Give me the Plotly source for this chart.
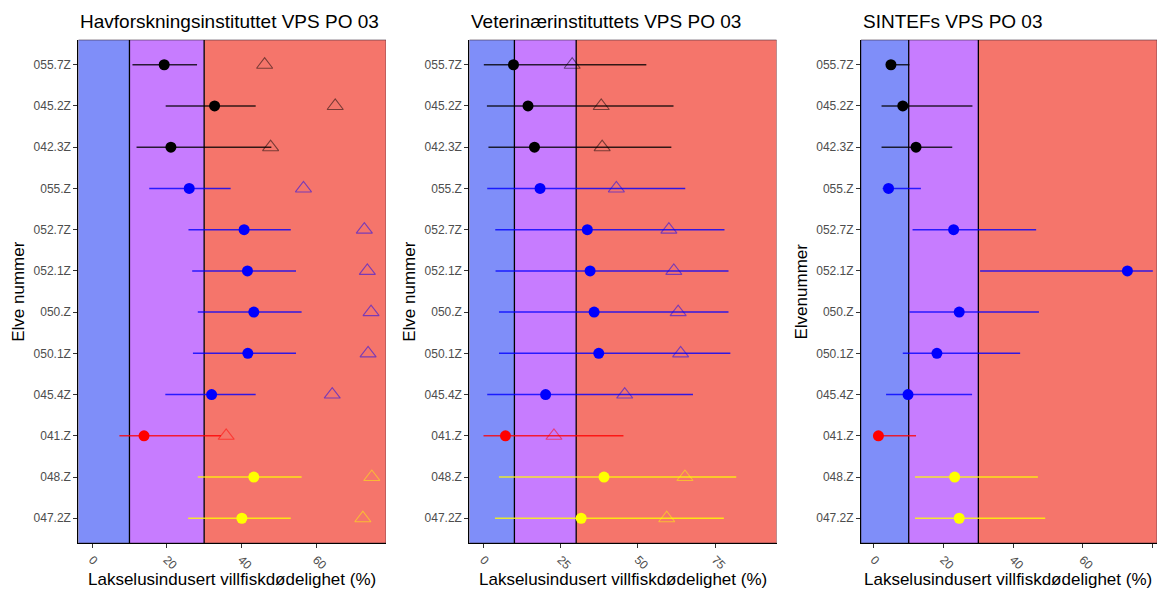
import plotly.graph_objects as go

rivers = ["055.7Z", "045.2Z", "042.3Z", "055.Z", "052.7Z", "052.1Z",
          "050.Z", "050.1Z", "045.4Z", "041.Z", "048.Z", "047.2Z"]
groups = ["black"] * 3 + ["blue"] * 6 + ["red"] + ["yellow"] * 2

titles = ["Havforskningsinstituttet VPS PO 03",
          "Veterinærinstituttets VPS PO 03",
          "SINTEFs VPS PO 03"]
y_titles = ["Elve nummer", "Elve nummer", "Elvenummer"]
x_title = "Lakselusindusert villfiskdødelighet (%)"

# Havforskningsinstituttet
hi_mid = [19.3, 32.8, 21.1, 26.0, 40.7, 41.6, 43.3, 41.7, 32.0, 13.9, 43.3, 40.1]
hi_lo = [10.8, 19.7, 11.9, 15.3, 25.8, 26.8, 28.3, 27.0, 19.6, 7.3, 28.3, 25.7]
hi_hi = [28.1, 43.8, 48.0, 37.1, 53.2, 54.6, 56.1, 54.6, 43.8, 34.5, 56.1, 53.2]
hi_tri = [46.2, 65.1, 47.8, 56.6, 72.9, 73.7, 74.7, 73.9, 64.3, 35.9, 74.9, 72.5]

# Veterinærinstituttet
vi_mid = [9.7, 14.4, 16.5, 18.3, 33.6, 34.5, 35.8, 37.3, 20.1, 7.1, 39.0, 31.6]
vi_lo = [0.1, 1.1, 1.6, 1.2, 3.8, 3.9, 5.0, 5.0, 1.2, 0.0, 5.0, 3.7]
vi_hi = [52.7, 61.5, 60.8, 65.3, 78.0, 79.3, 79.3, 79.9, 67.8, 45.3, 81.8, 77.8]
vi_tri = [28.7, 38.1, 38.4, 43.0, 60.0, 61.6, 63.0, 63.8, 45.7, 22.8, 65.2, 59.3]

# SINTEF
si_mid = [4.9, 8.3, 12.1, 4.2, 22.9, 72.8, 24.5, 18.1, 9.8, 1.3, 23.2, 24.5]
si_lo = [3.5, 2.2, 2.2, 2.5, 11.1, 30.5, 10.2, 8.3, 3.5, 0.5, 11.8, 11.8]
si_hi = [10.2, 28.3, 22.5, 13.5, 46.6, 80.1, 47.4, 42.0, 28.2, 12.1, 47.1, 49.2]

thresholds = [10, 30]
tickvals = [[0, 20, 40, 60], [0, 25, 50, 75], [0, 20, 40, 60, 80]]
xranges = [[-3.7, 78.7], [-4.6, 94.9], [-3.7, 81.3]]

panels = [(hi_mid, hi_lo, hi_hi, hi_tri),
          (vi_mid, vi_lo, vi_hi, vi_tri),
          (si_mid, si_lo, si_hi, None)]

W, H = 1157, 590
px_domains = [(78.3, 386.0), (469.3, 776.7), (861.0, 1157.0)]
y_dom = [(590 - 543) / 590, (590 - 40) / 590]

rgb = {"black": (0, 0, 0), "blue": (0, 0, 255), "red": (255, 0, 0), "yellow": (255, 255, 0)}
bg_cols = ["#7F8EF9", "#C77CFF", "#F5756B"]
FONT = "Liberation Sans, Arial, sans-serif"

fig = go.Figure()
shapes = []
annotations = []

for p, (mid, lo, hi, tri) in enumerate(panels):
    xa = "x" if p == 0 else f"x{p+1}"
    ya = "y" if p == 0 else f"y{p+1}"
    for g in ["black", "blue", "red", "yellow"]:
        idx = [i for i, gg in enumerate(groups) if gg == g]
        r, gr, b = rgb[g]
        fig.add_trace(go.Scatter(
            x=[mid[i] for i in idx], y=[rivers[i] for i in idx],
            mode="markers", xaxis=xa, yaxis=ya,
            marker=dict(color=f"rgb({r},{gr},{b})", size=11, line=dict(width=0)),
            error_x=dict(type="data", symmetric=False,
                         array=[hi[i] - mid[i] for i in idx],
                         arrayminus=[mid[i] - lo[i] for i in idx],
                         color=f"rgba({r},{gr},{b},0.8)", thickness=1.5, width=0),
            hoverinfo="skip", showlegend=False))
        if tri is not None:
            fig.add_trace(go.Scatter(
                x=[tri[i] for i in idx], y=[rivers[i] for i in idx],
                mode="markers", xaxis=xa, yaxis=ya,
                marker=dict(symbol="triangle-up-open", size=14,
                            color=f"rgba({r},{gr},{b},0.5)",
                            line=dict(width=1.1, color=f"rgba({r},{gr},{b},0.5)")),
                hoverinfo="skip", showlegend=False))

    x0, x1 = xranges[p]
    edges = [x0, thresholds[0], thresholds[1], x1]
    for k in range(3):
        shapes.append(dict(type="rect", xref=xa, yref=f"{ya} domain",
                           x0=edges[k], x1=edges[k + 1], y0=0, y1=1,
                           fillcolor=bg_cols[k], line=dict(width=0), layer="below"))
    shapes.append(dict(type="rect", xref=xa, yref=f"{ya} domain",
                       x0=x0, x1=x1, y0=0, y1=1, fillcolor="rgba(0,0,0,0)",
                       line=dict(width=0.8, color="rgba(60,40,60,0.7)"), layer="below"))
    for t in thresholds:
        shapes.append(dict(type="line", xref=xa, yref=f"{ya} domain",
                           x0=t, x1=t, y0=0, y1=1,
                           line=dict(width=1.3, color="black"), layer="below"))

    d0, d1 = px_domains[p]
    axis_common = dict(showgrid=False, zeroline=False, showline=True,
                       linecolor="black", linewidth=1, ticks="outside", ticklen=4,
                       tickcolor="#333333", tickwidth=1,
                       tickfont=dict(family=FONT, size=12, color="#4D4D4D"))
    fig.update_layout(**{
        ("xaxis" if p == 0 else f"xaxis{p+1}"): dict(
            domain=[d0 / W, d1 / W], range=xranges[p], tickvals=tickvals[p],
            tickangle=45, anchor=ya, **axis_common),
        ("yaxis" if p == 0 else f"yaxis{p+1}"): dict(
            domain=y_dom, anchor=xa, type="category",
            categoryorder="array", categoryarray=rivers[::-1],
            range=[-0.6, len(rivers) - 0.4], **axis_common),
    })
    annotations.append(dict(text=titles[p], xref="paper", yref="paper",
                            x=d0 / W, y=1 - 21.5 / H, xanchor="left", yanchor="middle",
                            showarrow=False, font=dict(family=FONT, size=19, color="black")))
    annotations.append(dict(text=x_title, xref="paper", yref="paper",
                            x=(d0 + min(d1, 1155)) / 2 / W,
                            y=1 - 579 / H, xanchor="center", yanchor="middle",
                            showarrow=False, font=dict(family=FONT, size=17, color="black")))
    annotations.append(dict(text=y_titles[p], xref="paper", yref="paper",
                            x=(d0 - 60) / W, y=(y_dom[0] + y_dom[1]) / 2,
                            xanchor="center", yanchor="middle", textangle=-90,
                            showarrow=False, font=dict(family=FONT, size=17, color="black")))

fig.update_layout(width=W, height=H, margin=dict(l=0, r=0, t=0, b=0),
                  paper_bgcolor="white", plot_bgcolor="white",
                  shapes=shapes, annotations=annotations, showlegend=False,
                  font=dict(family=FONT))

fig.write_html("out.html")
